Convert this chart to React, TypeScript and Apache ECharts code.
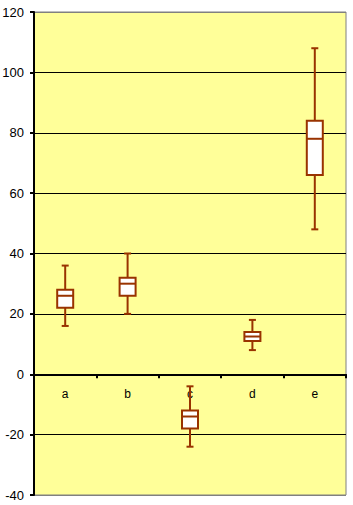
import React, { useEffect, useRef } from "react";
import * as echarts from "echarts";

const categories = ["a", "b", "c", "d", "e"];
const mins = [16, 20, -24, 8, 48];
const q1s = [22, 26, -18, 11, 66];
const medians = [26, 30, -14, 12.5, 78];
const q3s = [28, 32, -12, 14, 84];
const maxs = [36, 40, -4, 18, 108];

const BROWN = "#993300";

export default function App() {
  const ref = useRef<HTMLDivElement>(null);
  useEffect(() => {
    if (!ref.current) return;
    const chart = echarts.init(ref.current, null, { renderer: "svg" });
    const data = categories.map((_, i) => [i, mins[i], q1s[i], medians[i], q3s[i], maxs[i]]);
    chart.setOption({
      animation: false,
      backgroundColor: "#ffffff",
      grid: {
        left: 34,
        right: 7,
        top: 12,
        bottom: 10,
        show: true,
        outerBoundsMode: "none",
        containLabel: false,
        backgroundColor: "#FFFF99",
        borderColor: "#808080",
        borderWidth: 1,
      },
      xAxis: {
        type: "category",
        data: categories,
        boundaryGap: true,
        axisLine: { onZero: true, lineStyle: { color: "#000", width: 2 } },
        axisTick: { show: true, length: 4, lineStyle: { color: "#000", width: 2 } },
        axisLabel: { show: false },
      },
      yAxis: {
        type: "value",
        min: -40,
        max: 120,
        interval: 20,
        axisLine: { show: true, lineStyle: { color: "#000", width: 2 } },
        axisTick: { show: true, length: 4, lineStyle: { color: "#000", width: 2 } },
        axisLabel: { color: "#000", fontFamily: "Arial, Liberation Sans", fontSize: 13, margin: 10 },
        splitLine: {
          show: true,
          lineStyle: {
            color: ["#808080", "#000", "#000", "#000", "#000", "#000", "#000", "#000", "#808080"],
            width: 1,
          },
        },
      },
      series: [
        {
          type: "custom",
          data,
          clip: false,
          renderItem: (params: any, api: any) => {
            const x = api.value(0);
            const pMin = api.coord([x, api.value(1)]);
            const pQ1 = api.coord([x, api.value(2)]);
            const pMed = api.coord([x, api.value(3)]);
            const pQ3 = api.coord([x, api.value(4)]);
            const pMax = api.coord([x, api.value(5)]);
            const pZero = api.coord([x, 0]);
            const cx = pMin[0];
            const bw = 16;
            const cw = 7;
            const style = { stroke: BROWN, lineWidth: 2, fill: null };
            return {
              type: "group",
              children: [
                {
                  type: "text",
                  z2: 0,
                  style: {
                    x: cx,
                    y: pZero[1] + 20,
                    text: categories[params.dataIndex],
                    fill: "#000",
                    font: "12px Arial, 'Liberation Sans'",
                    align: "center",
                    verticalAlign: "middle",
                  },
                },
                { type: "line", z2: 1, shape: { x1: cx, y1: pMax[1], x2: cx, y2: pQ3[1] }, style },
                { type: "line", z2: 1, shape: { x1: cx, y1: pQ1[1], x2: cx, y2: pMin[1] }, style },
                { type: "line", z2: 1, shape: { x1: cx - cw / 2, y1: pMax[1], x2: cx + cw / 2, y2: pMax[1] }, style },
                { type: "line", z2: 1, shape: { x1: cx - cw / 2, y1: pMin[1], x2: cx + cw / 2, y2: pMin[1] }, style },
                {
                  type: "rect",
                  z2: 1,
                  shape: { x: cx - bw / 2, y: pQ3[1], width: bw, height: pQ1[1] - pQ3[1] },
                  style: { stroke: BROWN, lineWidth: 2, fill: "#ffffff" },
                },
                { type: "line", z2: 2, shape: { x1: cx - bw / 2, y1: pMed[1], x2: cx + bw / 2, y2: pMed[1] }, style },
              ],
            };
          },
        },
      ],
    });
    return () => chart.dispose();
  }, []);
  return (
    <div
      ref={ref}
      style={{ position: "absolute", left: 0, top: 0, width: 353, height: 505 }}
    />
  );
}
